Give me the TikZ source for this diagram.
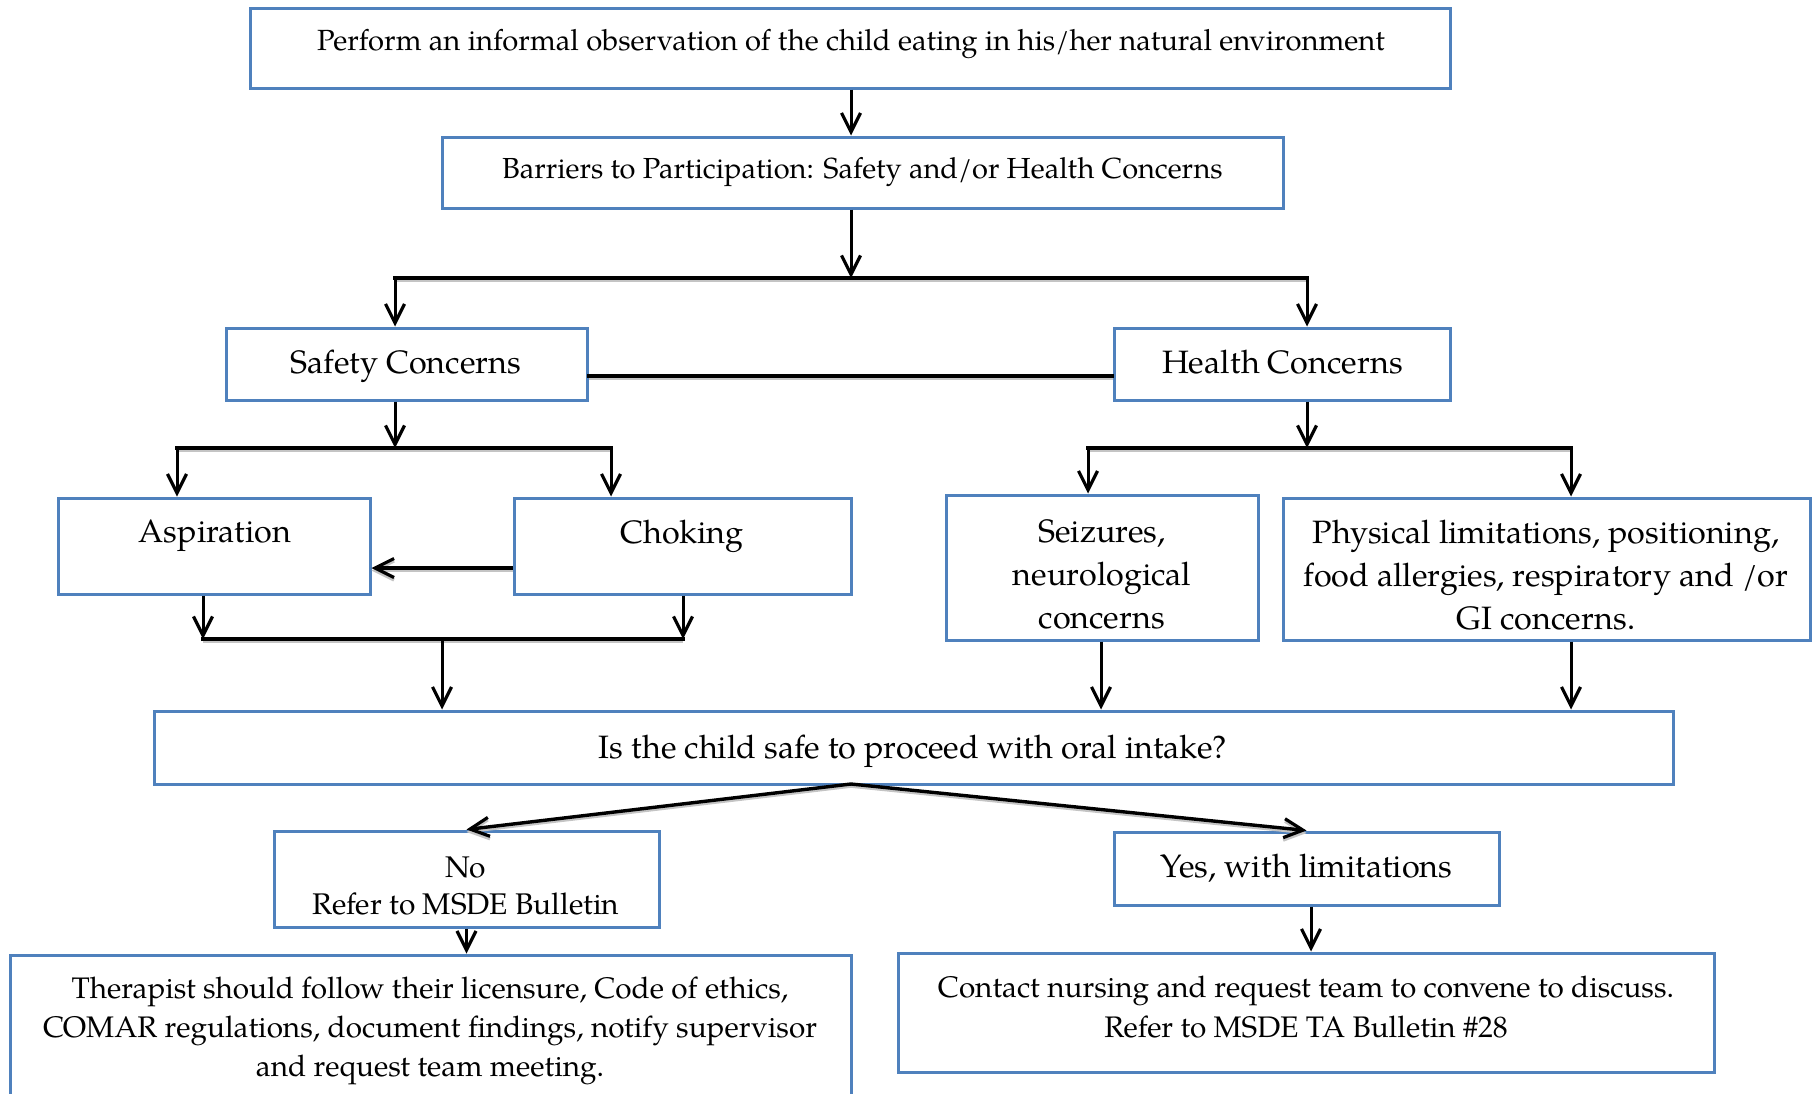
\documentclass[tikz,border=0pt]{standalone}
\usepackage{fontspec}
\setmainfont{texgyrepagella}[Extension=.otf, UprightFont=*-regular, BoldFont=*-bold, ItalicFont=*-italic, BoldItalicFont=*-bolditalic]
\usetikzlibrary{arrows.meta}
\definecolor{boxblue}{HTML}{4F81BD}
\definecolor{shadowgray}{HTML}{C4C4C4}
\newcommand\fsBig{\fontsize{9.2}{12.2}\selectfont}
\newcommand\fsMid{\fontsize{8.45}{11.1}\selectfont}
\newcommand\fsNo{\fontsize{8.5}{10.5}\selectfont}
\newcommand\fsTop{\fontsize{8.3}{10}\selectfont}
\newcommand\fsBar{\fontsize{8.25}{10}\selectfont}
\begin{document}
\begin{tikzpicture}[x=0.1mm, y=-0.1mm,
  box/.style={draw=boxblue, line width=0.3mm, rectangle, inner sep=0pt, align=center},
  txt/.style={inner sep=0pt, align=center},
  conn/.style={draw=black, line width=0.3mm},
  arr/.style={conn, -{Straight Barb[length=1.9mm, width=1.9mm, line width=0.32mm]}},
  shadow/.style={preaction={draw=shadowgray, line width=0.26mm, transform canvas={yshift=-0.25mm}}},
  hline/.style={conn, line width=0.33mm, line cap=rect, shadow},
  shadearr/.style={arr, shadow}
]
\useasboundingbox (0,0) rectangle (1815,1093);
\clip (0,0) rectangle (1815,1093);

% boxes
\node[box, minimum width=120mm, minimum height=8mm] (obs) at (850,48) {};
\node[txt, font=\fsTop] (obsT) at (851,44) {Perform an informal observation of the child eating in his/her natural environment};
\node[box, minimum width=84.1mm, minimum height=7.1mm, font=\fsBar] (bar) at (862.5,172.5) {Barriers to Participation: Safety and/or Health Concerns};
\node[box, minimum width=36.1mm, minimum height=7.2mm] (saf) at (406.5,364) {};
\node[txt, font=\fsBig, anchor=base] (safT) at (406,373) {Safety Concerns};
\node[box, minimum width=33.6mm, minimum height=7.2mm] (hea) at (1282,364) {};
\node[txt, font=\fsBig, anchor=base] (heaT) at (1282.5,373) {Health Concerns};

\node[box, minimum width=31.2mm, minimum height=9.6mm] (asp) at (214,546) {};
\node[txt, font=\fsBig] (aspT) at (215,536) {Aspiration};
\node[box, minimum width=33.7mm, minimum height=9.6mm] (cho) at (682.5,546) {};
\node[txt, font=\fsBig] (choT) at (682,536) {Choking};

\node[box, minimum width=31.2mm, minimum height=14.5mm] (sei) at (1102,567.5) {};
\node[txt, font=\fsBig] (seiT) at (1102,574) {Seizures,\\neurological\\concerns};
\node[box, minimum width=52.7mm, minimum height=14.2mm] (phy) at (1546.5,569) {};
\node[txt, font=\fsBig] (phyT) at (1546,575) {Physical limitations, positioning,\\food allergies, respiratory and /or\\GI concerns.};

\node[box, minimum width=151.9mm, minimum height=7.3mm] (safe) at (913.5,747.5) {};
\node[txt, font=\fsBig] (safeT) at (913,751) {Is the child safe to proceed with oral intake?};

\node[box, minimum width=38.5mm, minimum height=9.6mm] (no) at (466.5,879) {};
\node[txt, font=\fsNo] (noT) at (466,886) {No\\Refer to MSDE Bulletin};
\node[box, minimum width=38.5mm, minimum height=7.3mm, font=\fsBig] (yes) at (1306.5,868.5) {Yes, with limitations};

\node[box, minimum width=84.1mm, minimum height=16.5mm] (ther) at (430.5,1037.5) {};
\node[txt, font=\fsMid] (therT) at (430,1030.5) {Therapist should follow their licensure, Code of ethics,\\COMAR regulations, document findings, notify supervisor\\and request team meeting.};
\node[box, minimum width=81.6mm, minimum height=11.9mm] (con) at (1306,1012.5) {};
\node[txt, font=\fsMid] (conT) at (1306,1007) {Contact nursing and request team to convene to discuss.\\Refer to MSDE TA Bulletin \#28};

% junction points
\coordinate (sj) at (851,278);
\coordinate (sjL) at (395,278);
\coordinate (sjR) at (1307,278);
\coordinate (shy) at (0,376);
\coordinate (aj) at (395,448);
\coordinate (aL) at (177,448);
\coordinate (aR) at (611,448);
\coordinate (ca) at (0,568);
\coordinate (mL) at (203,639);
\coordinate (mR) at (683,639);
\coordinate (mj) at (442,639);
\coordinate (hj) at (1307,448);
\coordinate (hL) at (1088,448);
\coordinate (hR) at (1571,448);
\coordinate (sx) at (1101,0);
\coordinate (dj) at (851,784);
\coordinate (yx) at (1311,0);

% top chain
\draw[arr] (obs.south -| sj) -- (bar.north -| sj);
\draw[arr] (bar.south -| sj) -- (sj);
\draw[hline] (sjL) -- (sjR);
\draw[arr] (sjL) -- (sjL |- saf.north);
\draw[arr] (sjR) -- (sjR |- hea.north);
\draw[hline, line width=0.36mm] (saf.east |- shy) -- (hea.west |- shy);

% safety branch
\draw[arr] (saf.south -| aj) -- (aj);
\draw[hline] (aL) -- (aR);
\draw[arr] (aL) -- (aL |- asp.north);
\draw[arr] (aR) -- (aR |- cho.north);
\draw[shadearr, line width=0.36mm] (cho.west |- ca) -- (asp.east |- ca);
\draw[arr] (asp.south -| mL) -- (mL);
\draw[arr] (cho.south -| mR) -- (mR);
\draw[hline] (mL) -- (mR);
\draw[arr] (mj) -- (mj |- safe.north);

% health branch
\draw[arr] (hea.south -| hj) -- (hj);
\draw[hline] (hL) -- (hR);
\draw[arr] (hL) -- (hL |- sei.north);
\draw[arr] (hR) -- (hR |- phy.north);
\draw[arr] (sei.south -| sx) -- (sx |- safe.north);
\draw[arr] (phy.south -| hR) -- (hR |- safe.north);

% decision
\draw[shadearr, line width=0.34mm] (dj) -- (no.north);
\draw[shadearr, line width=0.34mm] (dj) -- (yes.north);
\draw[arr] (no.south) -- (no.south |- ther.north);
\draw[arr] (yes.south -| yx) -- (yx |- con.north);
\end{tikzpicture}
\end{document}
